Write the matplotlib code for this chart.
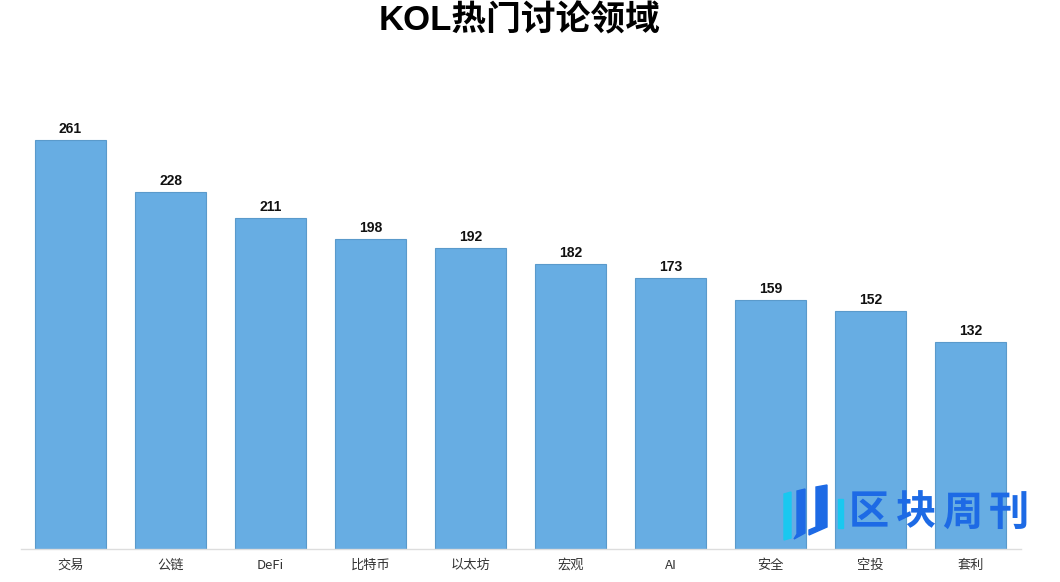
import matplotlib
matplotlib.use('Agg')
import matplotlib.pyplot as plt
from matplotlib.patches import Polygon

plt.rcParams['font.family'] = ['Noto Sans CJK SC', 'DejaVu Sans']
LATIN_FIRST = ['Liberation Sans', 'Noto Sans CJK SC']

categories = ['交易', '公链', 'DeFi', '比特币', '以太坊', '宏观', 'AI', '安全', '空投', '套利']
counts = [261, 228, 211, 198, 192, 182, 173, 159, 152, 132]

BAR_COLOR = '#67ade3'
EDGE_COLOR = '#5a9acb'

fig = plt.figure(figsize=(10.6, 5.82), dpi=100)
ax = fig.add_axes([20.5 / 1060, 33 / 582, 1000 / 1060, 449 / 582])

x = range(len(categories))
bars = ax.bar(x, counts, width=0.71, color=BAR_COLOR, edgecolor=EDGE_COLOR, linewidth=0.8)

for b, v in zip(bars, counts):
    ax.text(b.get_x() + b.get_width() / 2, v + 2.5, str(v), ha='center', va='bottom',
            fontsize=10, fontweight='bold', color='#111111', family=LATIN_FIRST)

ax.set_xlim(-0.5, len(categories) - 0.5)
ax.set_ylim(0, 286.5)
ax.set_xticks(list(x))
ax.set_xticklabels(categories, fontsize=9.5, color='#333333')
ax.tick_params(axis='x', length=0, pad=7)
ax.set_yticks([])
for side in ['top', 'right', 'left']:
    ax.spines[side].set_visible(False)
ax.spines['bottom'].set_color('#dddddd')
ax.spines['bottom'].set_linewidth(1)

fig.text(520 / 1060, 1 - 21 / 582, 'KOL热门讨论领域', ha='center', va='center',
         fontsize=25, fontweight='bold', color='#000000', family=LATIN_FIRST)

# watermark logo
W, H = 1060, 582
def px(pts):
    return [(a / W, 1 - b / H) for a, b in pts]
logo = [
    ([(784, 494), (791, 492), (791, 538), (784, 540)], '#19c8f0'),
    ([(797, 491), (805, 489), (805, 533), (794, 539), (797, 534)], '#1d6ae5'),
    ([(816, 487), (827, 485), (827, 527), (809, 535), (809, 530), (816, 527)], '#1d6ae5'),
    ([(838, 499), (843, 499), (843, 528), (838, 528)], '#19c8f0'),
]
for pts, c in logo:
    fig.patches.append(Polygon(px(pts), closed=True, color=c,
                               transform=fig.transFigure, zorder=5))
for cx, ch in zip([869, 916, 962, 1009], '区块周刊'):
    fig.text(cx / W, 1 - 513 / H, ch, ha='center', va='center', fontsize=29,
             fontweight='bold', color='#1d6ae5', zorder=6)

fig.savefig('out.png', dpi=100)
